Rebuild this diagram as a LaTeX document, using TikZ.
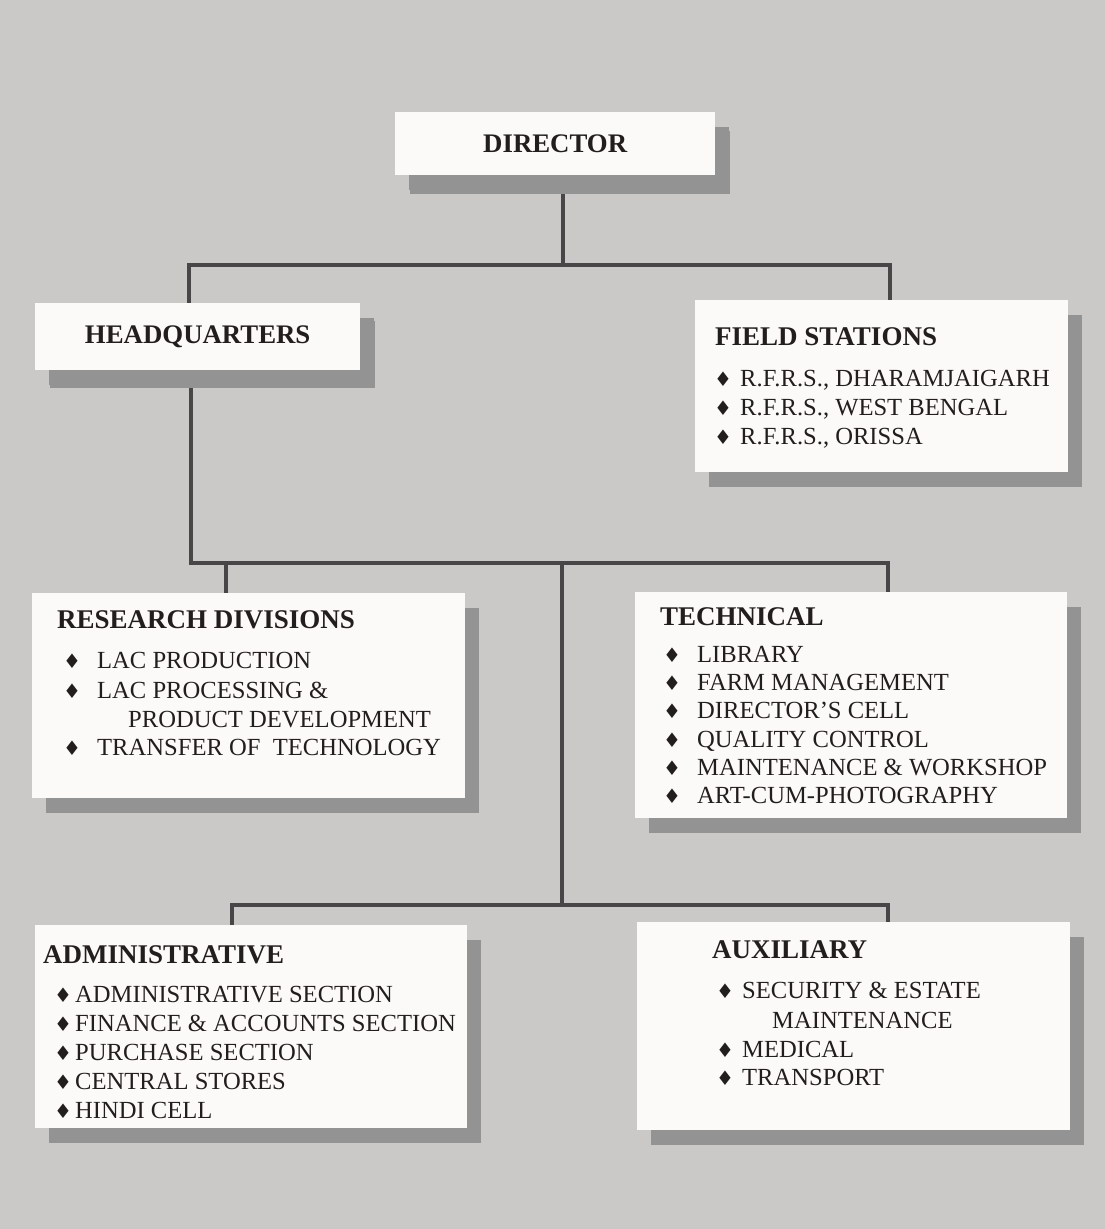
\documentclass[tikz,border=0pt]{standalone}
\usepackage{fontspec}
\setmainfont{Liberation Serif}
\newfontfamily\symfont{DejaVu Sans}
\usetikzlibrary{shadows}
\pgfdeclarelayer{back}
\pgfdeclarelayer{bg}
\pgfsetlayers{back,bg,main}
\definecolor{bgc}{RGB}{203,201,200}
\definecolor{shc}{RGB}{148,147,147}
\definecolor{linec}{RGB}{72,70,70}
\definecolor{boxc}{RGB}{252,250,248}
\definecolor{txtc}{RGB}{35,30,30}
\newcommand\bul{{\symfont\fontsize{20}{20}\selectfont ♦}}
\newcommand\li[2]{\makebox[#1][l]{\bul}#2}
\begin{document}
\begin{tikzpicture}[x=1pt,y=-1pt,
  box/.style={draw=none, fill=boxc, anchor=north west, inner sep=0, text=txtc,
    font=\bfseries\fontsize{26.8}{26.8}\selectfont,
    drop shadow={opacity=1, fill=shc, shadow xshift=14pt, shadow yshift=-15pt}},
  bigshadow/.style={drop shadow={opacity=1, fill=shc, shadow xshift=15pt, shadow yshift=-19pt}},
  conn/.style={draw=linec, line width=3.6pt},
  head/.style={anchor=base west, inner sep=0, text=txtc, font=\bfseries\fontsize{27}{27}\selectfont},
  itm/.style={anchor=base west, inner sep=0, text=txtc, font=\fontsize{24.6}{24.6}\selectfont}]
\begin{pgfonlayer}{back}
\fill[bgc] (0,0) rectangle (1105,1229);
\end{pgfonlayer}
% boxes
\node[box, bigshadow, minimum width=320pt, minimum height=63pt] (dir) at (395,112) {DIRECTOR};
\node[box, drop shadow={opacity=1, fill=shc, shadow xshift=15pt, shadow yshift=-18pt}, minimum width=325pt, minimum height=67pt] (hq) at (35,303) {HEADQUARTERS};
\node[box, minimum width=373pt, minimum height=172pt] (fs) at (695,300) {};
\node[box, minimum width=433pt, minimum height=205pt] (rd) at (32,593) {};
\node[box, minimum width=432pt, minimum height=226pt] (tech) at (635,592) {};
\node[box, minimum width=432pt, minimum height=203pt] (adm) at (35,925) {};
\node[box, minimum width=433pt, minimum height=208pt] (aux) at (637,922) {};
% junction coordinates
\coordinate (tc) at (563,265);
\coordinate (tL) at (189,265);
\coordinate (tR) at (890,265);
\coordinate (mL) at (191,563);
\coordinate (mR) at (888,563);
\coordinate (mC) at (562,563);
\coordinate (rdB) at (226,563);
\coordinate (bC) at (562,905);
\coordinate (bL) at (232,905);
\coordinate (bR) at (888,905);
\begin{pgfonlayer}{bg}
\draw[conn] (dir.south -| tc) -- (tc);
\draw[conn, line join=miter] (hq.north -| tL) -- (tL) -- (tR) -- (fs.north -| tR);
\draw[conn, line join=miter] (hq.south -| mL) -- (mL) -- (mR) -- (tech.north -| mR);
\draw[conn] (rdB) -- (rd.north -| rdB);
\draw[conn] (mC) -- (bC);
\draw[conn, line join=miter] (adm.north -| bL) -- (bL) -- (bR) -- (aux.north -| bR);
\end{pgfonlayer}
% field stations
\node[head] (fsh) at (715,345) {FIELD STATIONS};
\node[itm] (fs1) at (714,386) {\li{26pt}{R.F.R.S., DHARAMJAIGARH}};
\node[itm] (fs2) at (714,415) {\li{26pt}{R.F.R.S., WEST BENGAL}};
\node[itm] (fs3) at (714,444) {\li{26pt}{R.F.R.S., ORISSA}};
% research divisions
\node[head] (rdh) at (57,628) {RESEARCH DIVISIONS};
\node[itm] (rd1) at (63,668) {\li{34pt}{LAC PRODUCTION}};
\node[itm] (rd2) at (63,698) {\li{34pt}{LAC PROCESSING \&}};
\node[itm] (rd3) at (128,727) {PRODUCT DEVELOPMENT};
\node[itm] (rd4) at (63,755) {\li{34pt}{TRANSFER OF\ \ TECHNOLOGY}};
% technical
\node[head] (teh) at (660,625) {TECHNICAL};
\node[itm] (te1) at (663,662) {\li{34pt}{LIBRARY}};
\node[itm] (te2) at (663,690) {\li{34pt}{FARM MANAGEMENT}};
\node[itm] (te3) at (663,718) {\li{34pt}{DIRECTOR’S CELL}};
\node[itm] (te4) at (663,747) {\li{34pt}{QUALITY CONTROL}};
\node[itm] (te5) at (663,775) {\li{34pt}{MAINTENANCE \& WORKSHOP}};
\node[itm] (te6) at (663,803) {\li{34pt}{ART-CUM-PHOTOGRAPHY}};
% administrative
\node[head] (adh) at (43,963) {ADMINISTRATIVE};
\node[itm] (ad1) at (54,1002) {\li{21pt}{ADMINISTRATIVE SECTION}};
\node[itm] (ad2) at (54,1031) {\li{21pt}{FINANCE \& ACCOUNTS SECTION}};
\node[itm] (ad3) at (54,1060) {\li{21pt}{PURCHASE SECTION}};
\node[itm] (ad4) at (54,1089) {\li{21pt}{CENTRAL STORES}};
\node[itm] (ad5) at (54,1118) {\li{21pt}{HINDI CELL}};
% auxiliary
\node[head] (auh) at (712,958) {AUXILIARY};
\node[itm] (au1) at (716,998) {\li{26pt}{SECURITY \& ESTATE}};
\node[itm] (au2) at (772,1028) {MAINTENANCE};
\node[itm] (au3) at (716,1057) {\li{26pt}{MEDICAL}};
\node[itm] (au4) at (716,1085) {\li{26pt}{TRANSPORT}};
\end{tikzpicture}
\end{document}
